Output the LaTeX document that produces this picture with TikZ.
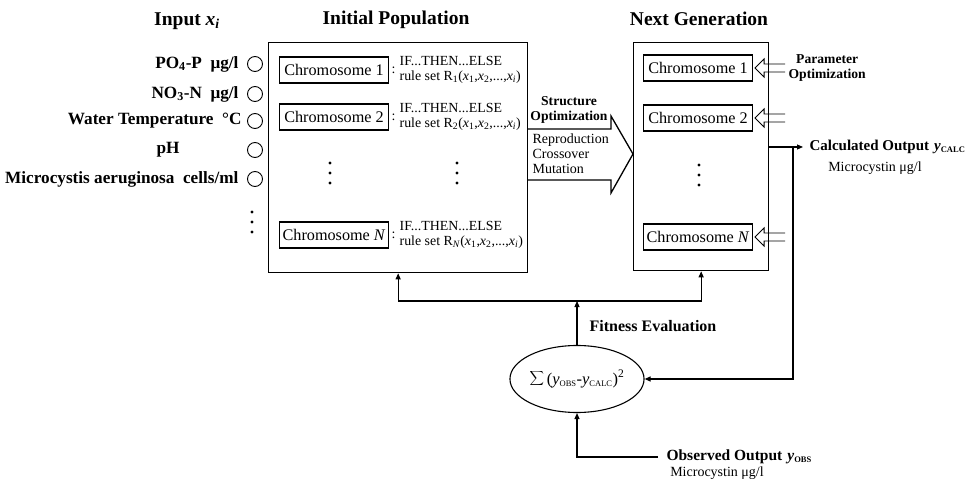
\documentclass[tikz,border=0pt]{standalone}
\usepackage{fontspec}
\setmainfont{Liberation Serif}
\usetikzlibrary{positioning, arrows.meta, calc, shapes.geometric}

% three dots in a column, centre given
\newcommand{\dotcolumn}[1]{\fill #1 ++(0,-10) circle (1.7) ++(0,10) circle (1.7) ++(0,10) circle (1.7);}
% hollow double arrow pointing left onto an anchor
\newcommand{\paramarrow}[1]{\draw[param] ([shift={(32,-4)}]#1) -- ([shift={(11,-4)}]#1) -- ([shift={(11,-9)}]#1)
    -- ([shift={(2,0)}]#1) -- ([shift={(11,9)}]#1) -- ([shift={(11,4)}]#1) -- ([shift={(32,4)}]#1);}
\newcommand{\subsc}[1]{\textsubscript{\fontsize{8.5}{9}\selectfont #1}}

\begin{document}
\begin{tikzpicture}[
    x=1pt, y=-1pt,
    >={Triangle[length=6pt, width=5pt]},
    line width=1.1pt,
    % Styles
    title/.style={font=\fontsize{19.5}{22}\selectfont\bfseries},
    inlabel/.style={font=\fontsize{17.2}{19}\selectfont\bfseries, anchor=east, inner sep=0pt},
    inport/.style={draw, circle, minimum size=15pt, inner sep=0pt, line width=0.9pt},
    population/.style={draw, rectangle, line width=1.3pt, anchor=north west, inner sep=0pt},
    chromosome/.style={
        draw, rectangle, anchor=west,
        minimum width=109pt, minimum height=26pt, inner sep=2pt,
        font=\fontsize{16.2}{17}\selectfont
    },
    colon/.style={font=\fontsize{14}{14}\selectfont, inner sep=0pt},
    ruleset/.style={font=\fontsize{13.9}{14.5}\selectfont, align=left, inner sep=0pt},
    smallbold/.style={font=\fontsize{13.6}{15}\selectfont\bfseries, align=center, inner sep=0pt},
    ops/.style={font=\fontsize{14}{15}\selectfont, align=left, inner sep=0pt},
    outbold/.style={font=\fontsize{15}{18}\selectfont\bfseries, inner sep=0pt},
    unit/.style={font=\fontsize{14}{15}\selectfont, inner sep=0pt},
    param/.style={line width=0.9pt, line join=miter},
    bigarrow/.style={line width=1.3pt, line join=miter},
    fitness/.style={
        draw, ellipse, minimum width=101pt, minimum height=67pt, inner sep=0pt,
        font=\fontsize{16.5}{17}\selectfont
    }
  ]
    \useasboundingbox (0,0) rectangle (967,481);

    % --- Titles ---
    \node (in_title)   [title] at (187,21) {Input \textit{x}\textsubscript{\textit{i}}};
    \node (init_title) [title] at (396,20) {Initial Population};
    \node (next_title) [title] at (699,19) {Next Generation};

    % --- Inputs ---
    \node (x1) [inport] at (255,64) {};
    \node (x2) [inport] at (255,94) {};
    \node (x3) [inport] at (255,121) {};
    \node (x4) [inport] at (255,150) {};
    \node (x5) [inport] at (255,179) {};
    \node (x1_label) [inlabel, left=8pt of x1] {PO\textsubscript{4}-P~~μg/l};
    \node (x2_label) [inlabel, left=8pt of x2] {NO\textsubscript{3}-N~~μg/l};
    \node (x3_label) [inlabel, left=5pt of x3] {Water Temperature~~°C};
    \node (x4_label) [inlabel, anchor=center] at (168,150) {pH};
    \node (x5_label) [inlabel, left=8pt of x5] {Microcystis aeruginosa~~cells/ml};
    \dotcolumn{(252,222)}

    % --- Initial Population ---
    \node (init) [population, minimum width=259pt, minimum height=230pt] at (268,42) {};
    \node (ic1) [chromosome] at (279,70)  {Chromosome 1};
    \node (ic2) [chromosome] at (279,117) {Chromosome 2};
    \node (icN) [chromosome] at (279,235) {Chromosome \textit{N}};
    \node (ic1_colon) [colon, right=2pt of ic1] {:};
    \node (ic2_colon) [colon, right=2pt of ic2] {:};
    \node (icN_colon) [colon, right=2pt of icN] {:};
    \node (ir1) [ruleset, right=3pt of ic1_colon] {IF...THEN...ELSE\\rule set R\textsubscript{1}(\textit{x}\textsubscript{1},\textit{x}\textsubscript{2},...,\textit{x}\textsubscript{\textit{i}})};
    \node (ir2) [ruleset, right=3pt of ic2_colon] {IF...THEN...ELSE\\rule set R\textsubscript{2}(\textit{x}\textsubscript{1},\textit{x}\textsubscript{2},...,\textit{x}\textsubscript{\textit{i}})};
    \node (irN) [ruleset, right=3pt of icN_colon] {IF...THEN...ELSE\\rule set R\textsubscript{\textit{N}}(\textit{x}\textsubscript{1},\textit{x}\textsubscript{2},...,\textit{x}\textsubscript{\textit{i}})};
    \dotcolumn{(330,173)}
    \dotcolumn{(457,173)}

    % --- Structure optimization arrow ---
    \draw[bigarrow] (527,129) -- (611,129) -- (611,116) -- (633,154) -- (611,193) -- (611,180) -- (527,180);
    \node (struct) [smallbold] at (569,110) {Structure\\Optimization};
    \node (ops_list) [ops, anchor=west] at (532,154) {Reproduction\\Crossover\\Mutation};

    % --- Next Generation ---
    \node (next) [population, minimum width=135pt, minimum height=228pt] at (633,42) {};
    \node (nc1) [chromosome] at (643,68)  {Chromosome 1};
    \node (nc2) [chromosome] at (643,118) {Chromosome 2};
    \node (ncN) [chromosome] at (643,237) {Chromosome \textit{N}};
    \dotcolumn{(699,175)}

    % --- Parameter optimization ---
    \coordinate (p1) at ([xshift=32pt]nc1.east);
    \paramarrow{nc1.east}
    \paramarrow{nc2.east}
    \paramarrow{ncN.east}
    \node (param_label) [smallbold, right=3pt of p1] {Parameter\\Optimization};

    % --- Calculated output ---
    \coordinate (out_y) at (0,147);
    \coordinate (out_start) at (next.east |- out_y);
    \coordinate (tap) at (793,147);
    \node (calc) [outbold, anchor=west] at (809,147) {Calculated Output\hspace{5pt}\textit{y}\subsc{CALC}};
    \node (calc_unit) [unit] at (875,168) {Microcystin μg/l};
    \draw[->] (out_start) -- ([xshift=-6pt]calc.west);

    % --- Fitness evaluation ---
    \node (fit) [fitness] at (577,379) {{\fontsize{21}{21}\selectfont$\displaystyle\sum$}\,(\textit{y}\subsc{OBS}-\textit{y}\subsc{CALC})\textsuperscript{2}};
    \coordinate (fj) at (577,301);
    \draw[->] (tap) |- (fit.east);
    \draw[->] (fit.north) -- (fj);
    \draw[->] (fj) -| (init.south);
    \draw[->] (fj) -| (next.south);
    \node (fit_label) [outbold, font=\fontsize{16}{18}\selectfont\bfseries] at (653,326) {Fitness Evaluation};

    % --- Observed output ---
    \node (obs) [outbold, font=\fontsize{15.5}{18}\selectfont\bfseries, anchor=west] at (666,457) {Observed Output\hspace{5pt}\textit{y}\subsc{OBS}};
    \node (obs_unit) [unit] at (717,473) {Microcystin μg/l};
    \draw[->] ([xshift=-8pt]obs.west) -| (fit.south);

\end{tikzpicture}
\end{document}
